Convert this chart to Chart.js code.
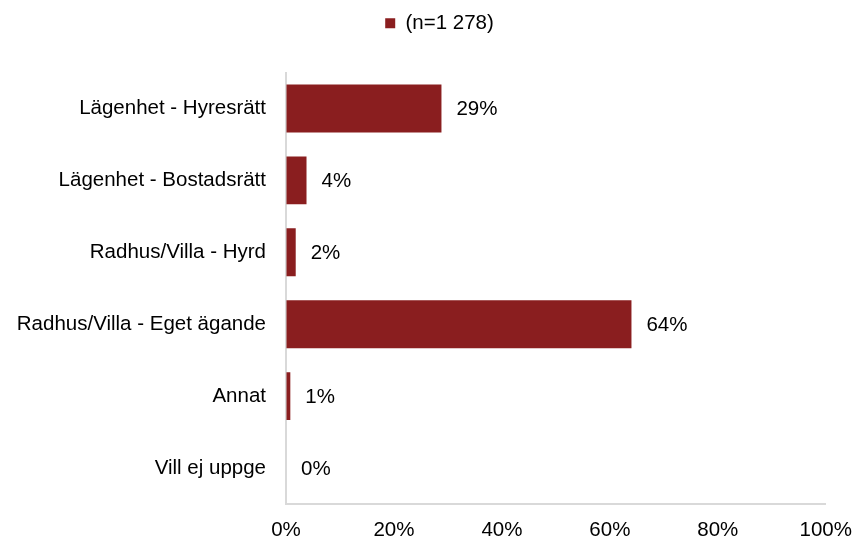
<!DOCTYPE html>
<html>
<head>
<meta charset="utf-8">
<script src="https://cdn.jsdelivr.net/npm/chart.js@4"></script>
<style>
html,body{margin:0;padding:0;background:#fff;}
#wrap{width:855px;height:538px;position:relative;}
</style>
</head>
<body>
<div id="wrap"><canvas id="c" width="855" height="538"></canvas></div>
<script>
const categories = ["Lägenhet - Hyresrätt","Lägenhet - Bostadsrätt","Radhus/Villa - Hyrd","Radhus/Villa - Eget ägande","Annat","Vill ej uppge"];
const values = [28.8, 3.8, 1.8, 64.0, 0.8, 0];
const valueLabels = ["29%","4%","2%","64%","1%","0%"];
const seriesName = "(n=1 278)";
const xTicks = [0,20,40,60,80,100];

const FONT = "'Liberation Sans', Arial, sans-serif";

const labelPlugin = {
  id: 'valueLabels',
  afterDatasetsDraw(chart) {
    const ctx = chart.ctx;
    const meta = chart.getDatasetMeta(0);
    ctx.save();
    ctx.font = "20.5px " + FONT;
    ctx.fillStyle = "#000";
    ctx.textBaseline = "middle";
    ctx.textAlign = "left";
    meta.data.forEach((bar, i) => {
      ctx.fillText(valueLabels[i], bar.x + 15, bar.y + 1);
    });
    ctx.restore();
  }
};

const legendTweak = {
  id: 'legendTweak',
  beforeInit(chart) {
    const lg = chart.legend;
    if (!lg) return;
    const origFit = lg.fit;
    lg.fit = function() {
      origFit.call(this);
      this.height += 29;
    };
    const origDraw = lg.draw;
    lg.draw = function() {
      const ctx = this.ctx;
      ctx.save();
      ctx.translate(12, 0);
      origDraw.apply(this, arguments);
      ctx.restore();
    };
  }
};

new Chart(document.getElementById('c'), {
  type: 'bar',
  data: {
    labels: categories,
    datasets: [{
      label: seriesName,
      data: values,
      backgroundColor: '#8a1e1f',
      borderWidth: 0,
      categoryPercentage: 0.667,
      barPercentage: 1.0
    }]
  },
  options: {
    indexAxis: 'y',
    responsive: false,
    animation: false,
    devicePixelRatio: 1,
    layout: { padding: { left: 0, right: 0, top: 7, bottom: 0 } },
    plugins: {
      legend: {
        display: true,
        position: 'top',
        labels: {
          font: { family: FONT, size: 20.5 },
          color: '#000',
          boxWidth: 10,
          boxHeight: 10,
          padding: 6
        },
        onClick: null
      },
      tooltip: { enabled: false }
    },
    scales: {
      x: {
        min: 0, max: 100,
        afterBuildTicks(scale) { scale.ticks = xTicks.map(v => ({ value: v })); },
        ticks: {
          font: { family: FONT, size: 20.5, lineHeight: 2.24 },
          color: '#000',
          padding: 3,
          maxRotation: 0,
          callback: v => v + '%'
        },
        grid: { display: true, color: 'transparent', drawTicks: false },
        border: { display: true, color: '#d9d9d9', width: 2 },
        afterFit(scale) { scale.height = 34; }
      },
      y: {
        ticks: {
          font: { family: FONT, size: 20.5 },
          color: '#000',
          padding: 20
        },
        grid: { display: true, color: 'transparent', drawTicks: false },
        border: { display: true, color: '#d9d9d9', width: 2 },
        afterFit(scale) { scale.width = 286; }
      },
      yRight: {
        position: 'right',
        display: true,
        ticks: { display: false },
        grid: { display: false, drawTicks: false },
        border: { display: false },
        afterFit(scale) { scale.width = 29; }
      }
    }
  },
  plugins: [labelPlugin, legendTweak]
});
</script>
</body>
</html>
